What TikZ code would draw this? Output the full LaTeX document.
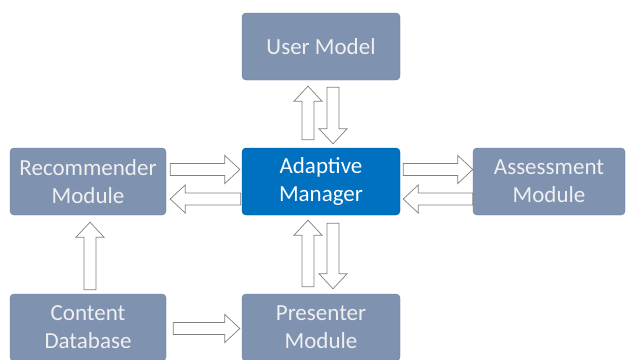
\documentclass[tikz,border=0pt]{standalone}
\usepackage{fontspec}
\setmainfont{Carlito}
\usetikzlibrary{calc}
\definecolor{slate}{RGB}{127,146,176}
\definecolor{slateline}{RGB}{106,123,152}
\definecolor{mgrblue}{RGB}{0,112,192}
\definecolor{mgrline}{RGB}{0,92,160}
\newcommand\hollowarrow[2]{%
  \draw[arrowline] let \p1=(#1), \p2=(#2), \n1={atan2(\y2-\y1,\x2-\x1)}, \n2={veclen(\x2-\x1,\y2-\y1)} in
    [shift={(\p1)}, rotate=\n1] (0,-6) -- (\n2-15,-6) -- (\n2-15,-14) -- (\n2,0)
    -- (\n2-15,14) -- (\n2-15,6) -- (0,6) -- cycle;}

\begin{document}
\begin{tikzpicture}[x=1pt,y=1pt,
    module/.style={draw=slateline, fill=slate, text=white!94!black, rounded corners=4pt,
      minimum width=158pt, minimum height=67pt, align=center, inner sep=0pt,
      font=\fontsize{23}{28}\selectfont},
    manager/.style={module, draw=mgrline, fill=mgrblue, text=white},
    arrowline/.style={draw=black!50, fill=white, line width=0.7pt}]
  \clip (0,0) rectangle (626,-359);
  \fill[white] (0,0) rectangle (626,-359);
  \node[module] (um) at (321,-46.5) {User Model};
  \node[module, minimum width=156pt] (rm) at (88,-181.5) {Recommender\\Module};
  \node[manager] (am) at (321,-181.5) {Adaptive\\Manager};
  \node[module, minimum width=152pt] (as) at (549,-181.5) {Assessment\\Module};
  \node[module, minimum width=156pt] (cd) at (88,-327.5) {Content\\Database};
  \node[module] (pm) at (321,-327.5) {Presenter\\Module};
  \hollowarrow{[xshift=-13pt,yshift=8pt]am.north}{[xshift=-13pt,yshift=-6pt]um.south}
  \hollowarrow{[xshift=12pt,yshift=-7pt]um.south}{[xshift=12pt,yshift=4pt]am.north}
  \hollowarrow{[xshift=-13pt,yshift=7pt]pm.north}{[xshift=-13pt,yshift=-5pt]am.south}
  \hollowarrow{[xshift=12pt,yshift=-8pt]am.south}{[xshift=12pt,yshift=5pt]pm.north}
  \hollowarrow{[xshift=4pt,yshift=12pt]rm.east}{[xshift=-2pt,yshift=12pt]am.west}
  \hollowarrow{[xshift=-1pt,yshift=-17.5pt]am.west}{[xshift=4pt,yshift=-17.5pt]rm.east}
  \hollowarrow{[xshift=3pt,yshift=12pt]am.east}{[yshift=12pt]as.west}
  \hollowarrow{[yshift=-17.5pt]as.west}{[xshift=3pt,yshift=-17.5pt]am.east}
  \hollowarrow{[xshift=2pt,yshift=4pt]cd.north}{[xshift=2pt,yshift=-7pt]rm.south}
  \hollowarrow{[xshift=7pt,yshift=-1pt]cd.east}{[xshift=-2pt,yshift=-1pt]pm.west}
\end{tikzpicture}
\end{document}
